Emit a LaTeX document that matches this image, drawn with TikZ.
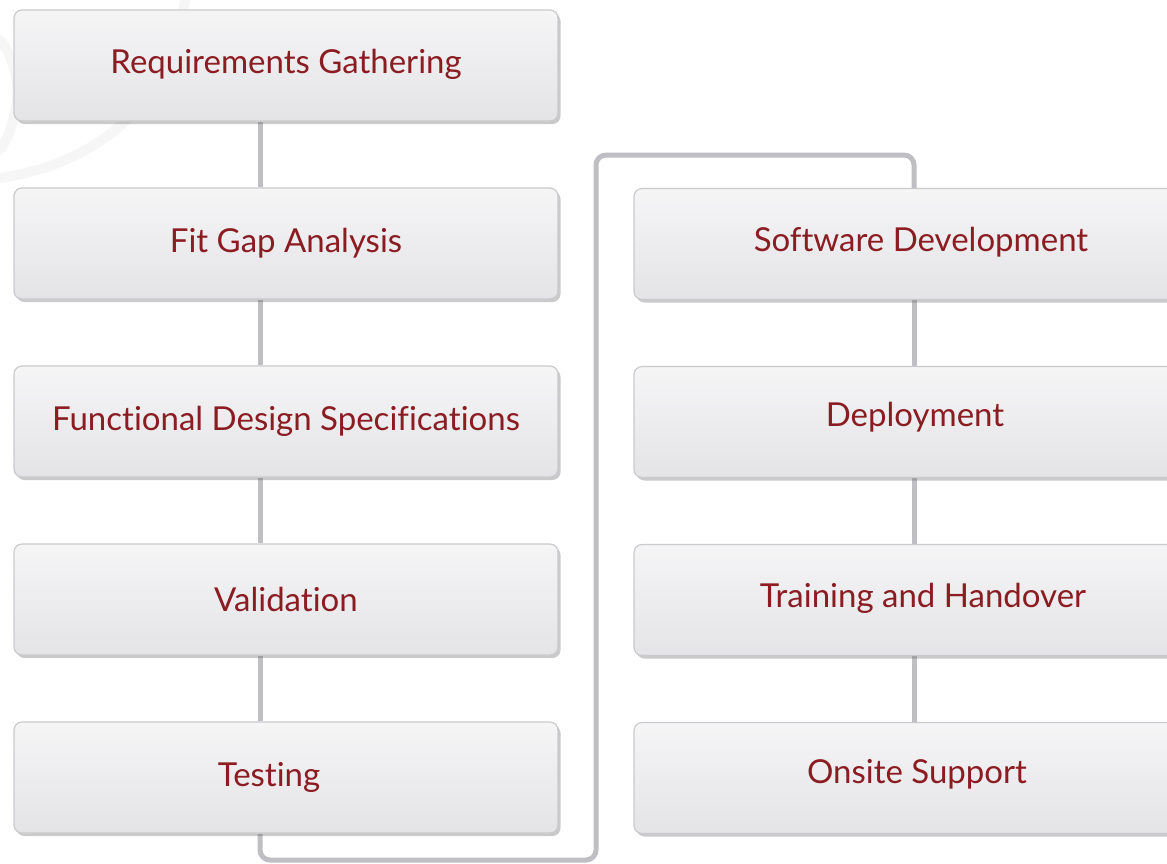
\documentclass[tikz,border=0pt]{standalone}
\usepackage{fontspec}
\setmainfont{Lato}[Ligatures=NoCommon]
\usetikzlibrary{shadows,backgrounds}
\definecolor{txtred}{HTML}{8A1C22}
\definecolor{boxtop}{HTML}{F5F5F6}
\definecolor{boxbot}{HTML}{E4E4E7}
\definecolor{boxedge}{HTML}{CACACE}
\definecolor{linegray}{HTML}{BEBEC3}
\definecolor{wmgray}{HTML}{F6F6F7}
\tikzset{
  stepbox/.style={draw=boxedge, line width=1.2pt, rounded corners=8pt,
    top color=boxtop, bottom color=boxbot,
    minimum width=544pt, minimum height=111pt, inner sep=0pt,
    text=txtred, font=\fontsize{33}{38}\selectfont,
    drop shadow={shadow xshift=2.5pt, shadow yshift=-3pt, opacity=0.35, fill=black!60}},
  link/.style={draw=linegray, line width=5pt, rounded corners=10pt},
  wm/.style={draw=wmgray, line width=10pt, line cap=round}
}
\begin{document}
\begin{tikzpicture}[x=1pt,y=-1pt]
\useasboundingbox (0,0) rectangle (1167,863);
\clip (0,0) rectangle (1167,863);
% faint watermark
\draw[wm] (0,178) .. controls (90,165) and (170,110) .. (185,0);
\draw[wm] (0,40) .. controls (25,70) and (20,120) .. (0,150);
% left column
\node[stepbox] (req) at (286,65.5) {\raisebox{9pt}{Requirements Gathering}};
\node[stepbox] (fit) at (286,243.5) {\raisebox{6pt}{Fit Gap Analysis}};
\node[stepbox] (fds) at (286,421.5) {\raisebox{6pt}{Functional Design Specifications}};
\node[stepbox] (val) at (286,599.5) {\raisebox{1pt}{Validation}};
\node[stepbox] (tst) at (286,777.5) {\hspace*{-34pt}\raisebox{3pt}{Testing}};
% right column
\node[stepbox] (sw)  at (906,244) {\hspace*{30pt}\raisebox{9pt}{Software Development}};
\node[stepbox] (dep) at (906,422) {\hspace*{18pt}\raisebox{16pt}{Deployment}};
\node[stepbox] (trn) at (906,600) {\hspace*{34pt}\raisebox{10pt}{Training and Handover}};
\node[stepbox] (ons) at (906,778) {\hspace*{22pt}\raisebox{13pt}{Onsite Support}};
% connectors
\coordinate (c1) at (260,860);
\coordinate (c2) at (596,860);
\coordinate (c3) at (596,155);
\coordinate (c4) at (914,155);
\begin{scope}[on background layer]
\draw[link] (req.south -| 260,0) -- (fit.north -| 260,0);
\draw[link] (fit.south -| 260,0) -- (fds.north -| 260,0);
\draw[link] (fds.south -| 260,0) -- (val.north -| 260,0);
\draw[link] (val.south -| 260,0) -- (tst.north -| 260,0);
\draw[link] (tst.south -| c1) -- (c1) -- (c2) -- (c3) -- (c4) -- (sw.north -| c4);
\draw[link] (sw.south -| c4) -- (dep.north -| c4);
\draw[link] (dep.south -| c4) -- (trn.north -| c4);
\draw[link] (trn.south -| c4) -- (ons.north -| c4);
\end{scope}
\end{tikzpicture}
\end{document}
